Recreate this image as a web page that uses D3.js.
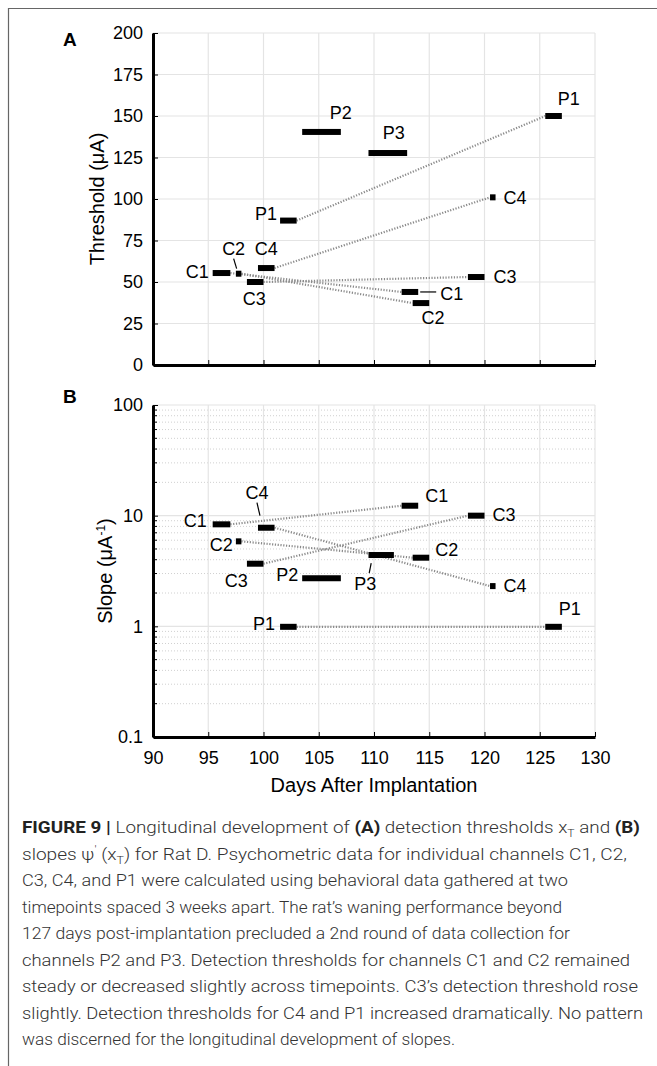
<!DOCTYPE html>
<html>
<head>
<meta charset="utf-8">
<script src="https://cdn.jsdelivr.net/npm/d3@7"></script>
<style>
  body { margin: 0; background: #fff; }
  svg { display: block; font-family: "Liberation Sans", Arial, sans-serif; }
</style>
</head>
<body>
<svg id="fig" width="657" height="1066"></svg>
<script>
// channel data
const channels = ["C1", "C2", "C3", "C4", "P1", "P2", "P3"];
// day span of each session mark (first and second timepoint)
const day1Start = [95.4, 97.5, 98.5, 99.5, 101.5, 103.5, 109.5];
const day1End   = [97.0, 98.0, 100.0, 101.0, 103.0, 107.0, 113.0];
const day2Start = [112.5, 113.5, 118.5, 120.5, 125.5, null, null];
const day2End   = [114.0, 115.0, 120.0, 121.0, 127.0, null, null];
const slopeP3End = 111.8;
// detection thresholds (uA)
const threshold1 = [55.4, 55.0, 50.0, 58.4, 87.0, 140.4, 127.7];
const threshold2 = [44.0, 37.3, 53.0, 101.0, 150.0, null, null];
// slopes (1/uA)
const slope1 = [8.35, 5.86, 3.68, 7.78, 0.99, 2.72, 4.41];
const slope2 = [12.3, 4.17, 10.0, 2.31, 0.99, null, null];
// tick labels
const xTicks = [90, 95, 100, 105, 110, 115, 120, 125, 130];
const thrTicks = [0, 25, 50, 75, 100, 125, 150, 175, 200];
const slopeTicks = [0.1, 1, 10, 100];

const captionLines = [
  [["FIGURE 9 | ", "b"], ["Longitudinal development of "], ["(A)", "b"], [" detection thresholds x"], ["T", "sub"], [" and "], ["(B)", "b"]],
  [["slopes \u03C8"], ["\u2032", "sup"], [" (x"], ["T", "sub"], [") for Rat D. Psychometric data for individual channels C1, C2,"]],
  [["C3, C4, and P1 were calculated using behavioral data gathered at two"]],
  [["timepoints spaced 3 weeks apart. The rat\u2019s waning performance beyond"]],
  [["127 days post-implantation precluded a 2nd round of data collection for"]],
  [["channels P2 and P3. Detection thresholds for channels C1 and C2 remained"]],
  [["steady or decreased slightly across timepoints. C3\u2019s detection threshold rose"]],
  [["slightly. Detection thresholds for C4 and P1 increased dramatically. No pattern"]],
  [["was discerned for the longitudinal development of slopes."]]
];
const captionWidths = [618, 605, 546, 540, 548, 608, 616, 621, 433];

const svg = d3.select("#fig");

// page frame
svg.append("line").attr("x1", 8).attr("x2", 657).attr("y1", 8.5).attr("y2", 8.5)
  .attr("stroke", "#666").attr("stroke-width", 1.2);
svg.append("line").attr("x1", 8.5).attr("x2", 8.5).attr("y1", 8).attr("y2", 1066)
  .attr("stroke", "#666").attr("stroke-width", 1.2);

const x = d3.scaleLinear().domain([90, 130]).range([153, 595]);
const yA = d3.scaleLinear().domain([0, 200]).range([365, 33]);
const yB = d3.scaleLog().domain([0.1, 100]).range([737, 405]);

function drawFrame(y, yTicks, fmt, showX, minor) {
  const g = svg.append("g");
  const [x0, x1] = x.range();
  const [yb, yt] = y.range();
  if (minor) {
    g.selectAll(".minor").data(minor).enter().append("line")
      .attr("x1", x0).attr("x2", x1).attr("y1", d => y(d)).attr("y2", d => y(d))
      .attr("stroke", "#d0d0d0").attr("stroke-width", 1).attr("stroke-dasharray", "1,2");
    g.selectAll(".mtick").data(minor).enter().append("line")
      .attr("x1", x0).attr("x2", x0 + 4).attr("y1", d => y(d)).attr("y2", d => y(d))
      .attr("stroke", "#000").attr("stroke-width", 1);
  }
  g.selectAll(".gx").data(xTicks.slice(1)).enter().append("line")
    .attr("x1", d => x(d)).attr("x2", d => x(d)).attr("y1", yb).attr("y2", yt)
    .attr("stroke", "#e4e4e4").attr("stroke-width", 1.2);
  g.selectAll(".gy").data(yTicks.slice(1)).enter().append("line")
    .attr("x1", x0).attr("x2", x1).attr("y1", d => y(d)).attr("y2", d => y(d))
    .attr("stroke", "#e4e4e4").attr("stroke-width", 1.2);

  const ax = g.append("g").attr("transform", `translate(0,${yb})`)
    .call(d3.axisBottom(x).tickValues(xTicks).tickSizeInner(-5).tickSizeOuter(0)
      .tickPadding(14).tickFormat(showX ? d3.format("d") : ""));
  ax.select(".domain").attr("stroke-width", 3);
  ax.selectAll("text").attr("font-size", 18).attr("font-family", "Liberation Sans, Arial").attr("fill", "#000");

  const ay = g.append("g").attr("transform", `translate(${x0},0)`)
    .call(d3.axisLeft(y).tickValues(yTicks).tickSizeInner(-5).tickSizeOuter(0)
      .tickPadding(10).tickFormat(fmt));
  ay.select(".domain").attr("stroke-width", 3);
  ay.selectAll("text").attr("font-size", 18).attr("font-family", "Liberation Sans, Arial").attr("fill", "#000");
  return g;
}

function drawMarks(y, v1, v2, end1) {
  const g = svg.append("g");
  const idx = channels.map((c, i) => i);
  const pairs = idx.filter(i => v2[i] != null);
  g.selectAll(".link").data(pairs).enter().append("line")
    .attr("x1", i => x(end1[i])).attr("y1", i => y(v1[i]))
    .attr("x2", i => x(day2Start[i])).attr("y2", i => y(v2[i]))
    .attr("stroke", "#8a8a8a").attr("stroke-width", 2.2).attr("stroke-dasharray", "1.2,1.6");
  g.selectAll(".m1").data(idx).enter().append("rect")
    .attr("x", i => x(day1Start[i])).attr("width", i => x(end1[i]) - x(day1Start[i]))
    .attr("y", i => y(v1[i]) - 3).attr("height", 6).attr("fill", "#000");
  g.selectAll(".m2").data(pairs).enter().append("rect")
    .attr("x", i => x(day2Start[i])).attr("width", i => x(day2End[i]) - x(day2Start[i]))
    .attr("y", i => y(v2[i]) - 3).attr("height", 6).attr("fill", "#000");
}

// label placement: [channel, session, anchor point ('s','e','c'), dx, dy, text-anchor, leader]
function drawLabels(y, v1, v2, end1, spec) {
  const g = svg.append("g").attr("font-size", 18);
  spec.forEach(([c, s, at, dx, dy, ta, leader]) => {
    const i = channels.indexOf(c);
    const a = s === 1 ? x(day1Start[i]) : x(day2Start[i]);
    const b = s === 1 ? x(end1[i]) : x(day2End[i]);
    const px = at === "s" ? a : at === "e" ? b : (a + b) / 2;
    const py = y(s === 1 ? v1[i] : v2[i]);
    g.append("text").attr("x", px + dx).attr("y", py + dy).attr("dy", "0.35em")
      .attr("text-anchor", ta).text(c);
    if (leader) {
      g.append("line").attr("x1", px + leader[0]).attr("y1", py + leader[1])
        .attr("x2", px + leader[2]).attr("y2", py + leader[3])
        .attr("stroke", "#000").attr("stroke-width", 1.2);
    }
  });
}

// Panel A
drawFrame(yA, thrTicks, d3.format("d"), false, null);
drawMarks(yA, threshold1, threshold2, day1End);
drawLabels(yA, threshold1, threshold2, day1End, [
  ["C1", 1, "s", -4, -1, "end"],
  ["C2", 1, "c", -5, -25, "middle", [-5, -15, -2, -5]],
  ["C3", 1, "c", -1, 17, "middle"],
  ["C4", 1, "c", 0, -19, "middle"],
  ["P1", 1, "s", -3, -7, "end"],
  ["P2", 1, "e", 0, -19, "middle"],
  ["P3", 1, "c", 6, -20, "middle"],
  ["P1", 2, "e", -4, -17, "start"],
  ["C4", 2, "e", 8, 0, "start"],
  ["C3", 2, "e", 9, 0, "start"],
  ["C1", 2, "e", 22, 2, "start", [2, 0, 18, 0]],
  ["C2", 2, "c", 12, 15, "middle"]
]);

// Panel B
const slopeEnd1 = day1End.map((d, i) => channels[i] === "P3" ? slopeP3End : d);
const minorTicks = [];
[0.1, 1, 10].forEach(dec => d3.range(2, 10).forEach(k => minorTicks.push(+(dec * k).toPrecision(2))));
drawFrame(yB, slopeTicks, d => String(d), true, minorTicks);
drawMarks(yB, slope1, slope2, slopeEnd1);
drawLabels(yB, slope1, slope2, slopeEnd1, [
  ["C1", 1, "s", -6, -4, "end"],
  ["C4", 1, "s", -1, -35, "middle", [-1, -25, 2, -12]],
  ["C2", 1, "s", -3, 3, "end"],
  ["C3", 1, "c", -19, 17, "middle"],
  ["P2", 1, "s", -4, -4, "end"],
  ["P1", 1, "s", -5, -3, "end"],
  ["C1", 2, "e", 7, -10, "start"],
  ["C3", 2, "e", 8, -1, "start"],
  ["P3", 1, "c", -16, 29, "middle", [-10, 8, -12, 18]],
  ["C2", 2, "e", 6, -8, "start"],
  ["C4", 2, "e", 8, 0, "start"],
  ["P1", 2, "e", -3, -18, "start"]
]);

// axis titles and panel letters
svg.append("text").attr("transform", `translate(97,${(yA.range()[0] + yA.range()[1]) / 2}) rotate(-90)`)
  .attr("text-anchor", "middle").attr("font-size", 20).attr("dy", "0.35em").text("Threshold (\u03BCA)");
const sl = svg.append("text").attr("transform", `translate(105,${(yB.range()[0] + yB.range()[1]) / 2}) rotate(-90)`)
  .attr("text-anchor", "middle").attr("font-size", 20).attr("dy", "0.35em");
sl.append("tspan").text("Slope (\u03BCA");
sl.append("tspan").attr("font-size", 12).attr("dy", -7).text("-1");
sl.append("tspan").attr("dy", 7).text(")");
svg.append("text").attr("x", (x.range()[0] + x.range()[1]) / 2).attr("y", 792)
  .attr("text-anchor", "middle").attr("font-size", 20).text("Days After Implantation");
svg.append("text").attr("x", 63).attr("y", 46).attr("font-size", 19).attr("font-weight", "bold").text("A");
svg.append("text").attr("x", 63).attr("y", 403).attr("font-size", 19).attr("font-weight", "bold").text("B");

// caption
const cap = svg.append("g").attr("fill", "#333").attr("font-family", "Roboto, 'Liberation Sans', sans-serif")
  .attr("font-size", 17);
captionLines.forEach((parts, li) => {
  const t = cap.append("text").attr("x", 22).attr("y", 833 + li * 26.5)
    .attr("textLength", captionWidths[li]).attr("lengthAdjust", "spacingAndGlyphs")
    .attr("font-weight", 300);
  let shift = 0;
  parts.forEach(([s, k]) => {
    const ts = t.append("tspan").text(s);
    const target = k === "sub" ? 4 : k === "sup" ? -7 : 0;
    if (target !== shift) { ts.attr("dy", target - shift); shift = target; }
    if (k === "b") ts.attr("font-weight", 700).attr("fill", "#222");
    if (k === "sub" || k === "sup") ts.attr("font-size", 11);
  });
});
</script>
</body>
</html>
